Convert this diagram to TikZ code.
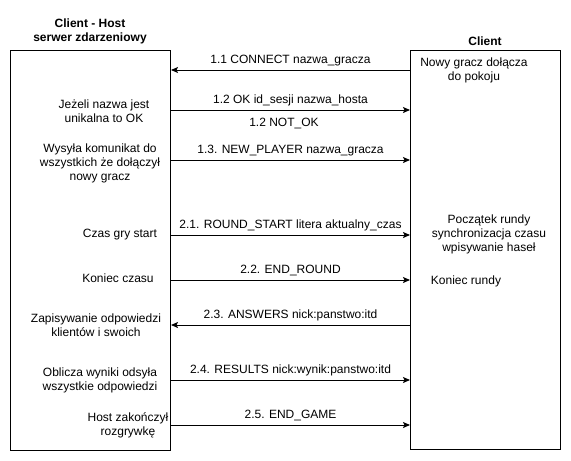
\documentclass[tikz,border=0pt]{standalone}
\usepackage{fontspec}
\setmainfont{Liberation Sans}
\usetikzlibrary{arrows.meta,calc}
\begin{document}
\begin{tikzpicture}[x=1pt,y=-1pt,
  every node/.style={font=\fontsize{12}{14}\selectfont, inner sep=0pt},
  box/.style={draw, line width=1pt, inner sep=0pt},
  msg/.style={line width=1pt, -{Stealth[length=7pt,width=6pt,inset=1.5pt]}},
  lbl/.style={anchor=south, yshift=4pt},
  txt/.style={align=center},
  ttl/.style={align=center, font=\fontsize{12}{14}\selectfont\bfseries}
]
\useasboundingbox (0,0) rectangle (571,461);
\fill[white] (0,0) rectangle (571,461);
% boxes
\node[box, minimum width=160pt, minimum height=400pt] (lbox) at (90.5,250) {};
\node[box, minimum width=150pt, minimum height=399pt] (rbox) at (485.5,249.5) {};
% titles
\node[ttl] (tl) at (90,31) {Client - Host\\serwer zdarzeniowy};
\node[ttl] (tr) at (485,41) {Client};
% row coordinates
\coordinate (y11) at (0,70);
\coordinate (y12) at (0,110);
\coordinate (y13) at (0,160);
\coordinate (y21) at (0,235);
\coordinate (y22) at (0,280);
\coordinate (y23) at (0,325);
\coordinate (y24) at (0,380);
\coordinate (y25) at (0,425);
% messages
\draw[msg] (rbox.west |- y11) -- node[lbl] (l11) {1.1 CONNECT nazwa\_gracza} (lbox.east |- y11);
\draw[msg] (lbox.east |- y12) -- node[lbl] (l12) {1.2 OK id\_sesji nazwa\_hosta} (rbox.west |- y12);
\node (l12b) at (284,124) {1.2 NOT\_OK};
\draw[msg] (lbox.east |- y13) -- node[lbl] (l13) {1.3. NEW\_PLAYER nazwa\_gracza} (rbox.west |- y13);
\draw[msg] (lbox.east |- y21) -- node[lbl] (l21) {2.1. ROUND\_START litera aktualny\_czas} (rbox.west |- y21);
\draw[msg] (lbox.east |- y22) -- node[lbl] (l22) {2.2. END\_ROUND} (rbox.west |- y22);
\draw[msg] (rbox.west |- y23) -- node[lbl] (l23) {2.3. ANSWERS nick:panstwo:itd} (lbox.east |- y23);
\draw[msg] (lbox.east |- y24) -- node[lbl] (l24) {2.4. RESULTS nick:wynik:panstwo:itd} (rbox.west |- y24);
\draw[msg] (lbox.east |- y25) -- node[lbl] (l25) {2.5. END\_GAME} (rbox.west |- y25);
% left texts
\node[txt] (a1) at (104,111) {Jeżeli nazwa jest\\unikalna to OK};
\node[txt] (a2) at (100,163) {Wysyła komunikat do\\wszystkich że dołączył\\nowy gracz};
\node[txt] (a3) at (120,235) {Czas gry start};
\node[txt] (a4) at (118,278) {Koniec czasu};
\node[txt] (a5) at (96,325) {Zapisywanie odpowiedzi\\klientów i swoich};
\node[txt] (a6) at (100,380) {Oblicza wyniki odsyła\\wszystkie odpowiedzi};
\node[txt] (a7) at (128,425) {Host zakończył\\rozgrywkę};
% right texts
\node[txt] (b1) at (474,70) {Nowy gracz dołącza\\do pokoju};
\node[txt] (b2) at (489,234) {Początek rundy\\synchronizacja czasu\\wpisywanie haseł};
\node[txt] (b3) at (466,281) {Koniec rundy};
\end{tikzpicture}
\end{document}
